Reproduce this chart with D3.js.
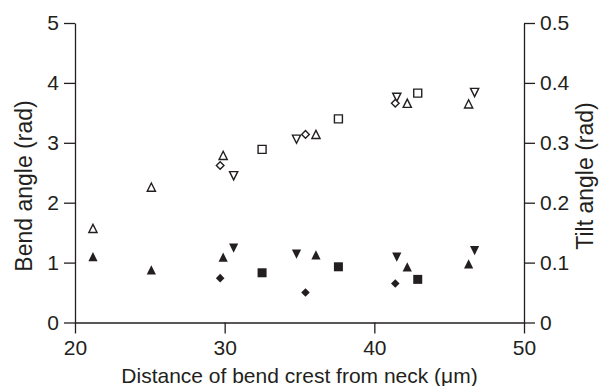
<!DOCTYPE html>
<html>
<head>
<meta charset="utf-8">
<script src="https://cdn.jsdelivr.net/npm/d3@7"></script>
<style>
  html, body { margin: 0; padding: 0; background: #fff; }
  svg { display: block; }
  text { font-family: "Liberation Sans", Arial, Helvetica, sans-serif; fill: #231f20; }
</style>
</head>
<body>
<svg id="chart" width="599" height="386"></svg>
<script>
// ---- Data ----
const xTicks = [20, 30, 40, 50];
const leftTicks = [0, 1, 2, 3, 4, 5];
const rightTicks = [0, 0.1, 0.2, 0.3, 0.4, 0.5];

// Series: triangle up
const triUpX    = [21.2, 25.1, 29.9, 36.1, 42.2, 46.3];
const triUpBend = [1.57, 2.26, 2.79, 3.14, 3.66, 3.65];
const triUpTilt = [0.110, 0.088, 0.109, 0.113, 0.093, 0.098];
// Series: triangle down
const triDownX    = [30.6, 34.8, 41.5, 46.7];
const triDownBend = [2.45, 3.06, 3.76, 3.84];
const triDownTilt = [0.124, 0.114, 0.109, 0.120];
// Series: diamond
const diamondX    = [29.7, 35.4, 41.4];
const diamondBend = [2.62, 3.14, 3.66];
const diamondTilt = [0.074, 0.050, 0.065];
// Series: square
const squareX    = [32.5, 37.6, 42.9];
const squareBend = [2.89, 3.40, 3.83];
const squareTilt = [0.083, 0.093, 0.072];

const xLabel = "Distance of bend crest from neck (\u03bcm)";
const leftLabel = "Bend angle (rad)";
const rightLabel = "Tilt angle (rad)";

// ---- Layout ----
const svg = d3.select("#chart");
const L = 75, R = 524, T = 23, B = 322.5;
const ink = "#231f20";

const x = d3.scaleLinear().domain([20, 50]).range([L, R]);
const yL = d3.scaleLinear().domain([0, 5]).range([B, T]);
const yR = d3.scaleLinear().domain([0, 0.5]).range([B, T]);

const tickFont = 21;
const titleFont = 21;
const yTitleFont = 23;

function styleAxis(g) {
  g.selectAll("path.domain").attr("stroke", ink).attr("stroke-width", 1.3);
  g.selectAll(".tick line").attr("stroke", ink).attr("stroke-width", 1.3);
  g.selectAll(".tick text").attr("fill", ink)
    .style("font-family", '"Liberation Sans", Arial, Helvetica, sans-serif')
    .style("font-size", tickFont + "px");
}

svg.append("g").attr("transform", `translate(0,${B})`)
  .call(d3.axisBottom(x).tickValues(xTicks).tickFormat(d3.format("d"))
        .tickSizeInner(11).tickSizeOuter(0).tickPadding(7))
  .call(styleAxis);

svg.append("g").attr("transform", `translate(${L},0)`)
  .call(d3.axisLeft(yL).tickValues(leftTicks).tickFormat(d3.format("d"))
        .tickSizeInner(11).tickSizeOuter(0).tickPadding(5))
  .call(styleAxis);

svg.append("g").attr("transform", `translate(${R},0)`)
  .call(d3.axisRight(yR).tickValues(rightTicks).tickFormat(d => d === 0 ? "0" : d.toFixed(1))
        .tickSizeInner(11).tickSizeOuter(0).tickPadding(5))
  .call(styleAxis);

// Axis titles
svg.append("text")
  .attr("x", (L + R) / 2).attr("y", 383)
  .attr("text-anchor", "middle")
  .style("font-size", titleFont + "px")
  .text(xLabel);

svg.append("text")
  .attr("transform", `translate(32,186) rotate(-90)`)
  .attr("text-anchor", "middle")
  .style("font-size", yTitleFont + "px")
  .text(leftLabel);

svg.append("text")
  .attr("transform", `translate(593,176) rotate(-90)`)
  .attr("text-anchor", "middle")
  .style("font-size", yTitleFont + "px")
  .text(rightLabel);

// ---- Marker shapes (centred on bounding box) ----
const shapes = {
  up:      (s) => `M0,${-s/2}L${s/2},${s/2}L${-s/2},${s/2}Z`,
  down:    (s) => `M0,${s/2}L${s/2},${-s/2}L${-s/2},${-s/2}Z`,
  diamond: (s) => `M0,${-s/2}L${s/2},0L0,${s/2}L${-s/2},0Z`,
  square:  (s) => `M${-s/2},${-s/2}H${s/2}V${s/2}H${-s/2}Z`
};

const series = [
  { shape: "up",      xs: triUpX,    bend: triUpBend,    tilt: triUpTilt,    size: 8.2 },
  { shape: "down",    xs: triDownX,  bend: triDownBend,  tilt: triDownTilt,  size: 8.2 },
  { shape: "diamond", xs: diamondX,  bend: diamondBend,  tilt: diamondTilt,  size: 7.6 },
  { shape: "square",  xs: squareX,   bend: squareBend,   tilt: squareTilt,   size: 8.0 }
];

const marks = svg.append("g");
series.forEach(s => {
  // open markers: bend angle (left axis)
  marks.selectAll(null).data(s.xs.map((xv, i) => ({ x: xv, y: s.bend[i] })))
    .enter().append("path")
    .attr("d", shapes[s.shape](s.size))
    .attr("transform", d => `translate(${x(d.x)},${yL(d.y)})`)
    .attr("fill", "#fff").attr("stroke", ink).attr("stroke-width", 1.4)
    .attr("stroke-linejoin", "miter");
  // filled markers: tilt angle (right axis)
  marks.selectAll(null).data(s.xs.map((xv, i) => ({ x: xv, y: s.tilt[i] })))
    .enter().append("path")
    .attr("d", shapes[s.shape](s.size + 1))
    .attr("transform", d => `translate(${x(d.x)},${yR(d.y)})`)
    .attr("fill", ink).attr("stroke", "none");
});
</script>
</body>
</html>
